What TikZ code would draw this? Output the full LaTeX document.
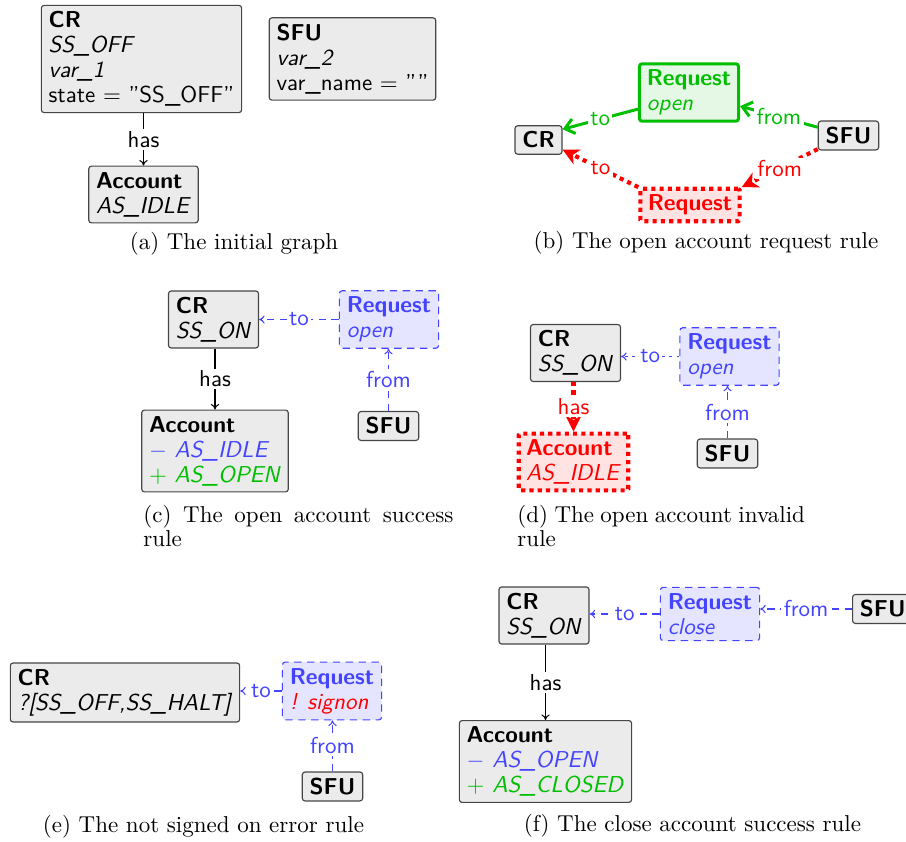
\documentclass[tikz,border=0pt]{standalone}
\usetikzlibrary{arrows.meta}
\definecolor{bfill}{RGB}{235,235,235}
\definecolor{bdraw}{RGB}{70,70,70}
\definecolor{myblue}{RGB}{68,68,255}
\definecolor{bluefill}{RGB}{229,229,255}
\definecolor{mygreen}{RGB}{0,190,0}
\definecolor{greenfill}{RGB}{229,247,229}
\definecolor{myred}{RGB}{255,0,0}
\definecolor{redfill}{RGB}{255,226,226}
\newcommand\ndfont{\sffamily\fontsize{10}{10.9}\selectfont}
\tikzset{
  box/.style={draw=bdraw, fill=bfill, line width=0.5pt, rounded corners=1.2pt,
    align=left, inner xsep=3.2pt, inner ysep=2.6pt, font=\ndfont},
  bluebox/.style={box, draw=myblue, fill=bluefill, dash pattern=on 3.2pt off 2.4pt},
  greenbox/.style={box, draw=mygreen, fill=greenfill, line width=1.3pt},
  redbox/.style={box, draw=myred, fill=redfill, line width=1.8pt, dash pattern=on 1.8pt off 1.8pt, rounded corners=0.6pt},
  lbl/.style={fill=white, inner sep=1pt, font=\ndfont},
  hasedge/.style={draw=black, line width=0.45pt, -{Computer Modern Rightarrow[length=2.4pt,width=3.6pt]}},
  blueedge/.style={draw=myblue, line width=0.45pt, dash pattern=on 3.2pt off 2.4pt, -{Computer Modern Rightarrow[length=2.4pt,width=3.6pt]}},
  blueedgefine/.style={draw=myblue, line width=0.45pt, dash pattern=on 1.2pt off 2pt, -{Computer Modern Rightarrow[length=2.4pt,width=3.6pt]}},
  greenedge/.style={draw=mygreen, line width=1.3pt, -{Straight Barb[length=4pt,width=6.5pt]}},
  rededge/.style={draw=myred, line width=1.8pt, dash pattern=on 1.8pt off 1.8pt, -{Stealth[length=7pt,width=7pt,inset=2pt]}},
  capnode/.style={font=\rmfamily\fontsize{10}{9.4}\selectfont, inner sep=0pt},
}
\begin{document}
\begin{tikzpicture}[x=0.4348pt, y=-0.4348pt]
\useasboundingbox (0,0) rectangle (906,842);

% ---------- (a)
\node[box] (a-cr) at (141.5,59) {\textbf{CR}\\\textit{SS\_OFF}\\\textit{var\_1}\\state $=$ "SS\_OFF"};
\node[box] (a-sfu) at (352.5,59) {\textbf{SFU}\\\textit{var\_2}\\var\_name $=$ ""};
\node[box] (a-acc) at (143.5,194.5) {\textbf{Account}\\\textit{AS\_IDLE}};
\draw[hasedge] (a-acc.north |- a-cr.south) -- node[lbl] {has} (a-acc.north);
\node[capnode] (a-cap) at (234,244) {(a) The initial graph};

% ---------- (b)
\node[greenbox] (b-req) at (689,92.5) {\textcolor{mygreen}{\textbf{Request}}\\\textcolor{mygreen}{\textit{open}}};
\node[box] (b-cr) at (538.5,140) {\textbf{CR}};
\node[box] (b-sfu) at (848.5,135.5) {\textbf{SFU}};
\node[redbox] (b-rreq) at (690,205) {\textcolor{myred}{\textbf{Request}}};
\draw[greenedge] (b-req.198) -- node[lbl, text=mygreen] {to} (b-cr.24);
\draw[greenedge] (b-sfu.165) -- node[lbl, text=mygreen] {from} (b-req.-15);
\draw[rededge] (b-rreq.161) -- node[lbl, text=myred] {to} (b-cr.-22);
\draw[rededge] (b-sfu.204) -- node[lbl, text=myred] {from} (b-rreq.19);
\node[capnode] (b-cap) at (706,243) {(b) The open account request rule};

% ---------- (c)
\node[box] (c-cr) at (213.5,319.5) {\textbf{CR}\\\textit{SS\_ON}};
\node[bluebox] (c-req) at (389,319.5) {\textcolor{myblue}{\textbf{Request}}\\\textcolor{myblue}{\textit{open}}};
\node[box] (c-acc) at (215,451) {\textbf{Account}\\\textcolor{myblue}{$-$ \textit{AS\_IDLE}}\\\textcolor{mygreen}{$+$ \textit{AS\_OPEN}}};
\node[box] (c-sfu) at (388.5,426) {\textbf{SFU}};
\draw[hasedge] (c-acc.north |- c-cr.south) -- node[lbl] {has} (c-acc.north);
\draw[blueedge] (c-req.west) -- node[lbl, text=myblue] {to} (c-cr.east);
\draw[blueedge] (c-sfu.north) -- node[lbl, text=myblue] {from} (c-sfu.north |- c-req.south);
\node[capnode, anchor=north west, text width=134.8pt, align=justify] (c-cap) at (143,505) {(c) The open account success\linebreak rule};

% ---------- (d)
\node[box] (d-cr) at (575.5,353) {\textbf{CR}\\\textit{SS\_ON}};
\node[bluebox] (d-req) at (729.5,356.5) {\textcolor{myblue}{\textbf{Request}}\\\textcolor{myblue}{\textit{open}}};
\node[redbox] (d-acc) at (573.5,462) {\textcolor{myred}{\textbf{Account}}\\\textcolor{myred}{\textit{AS\_IDLE}}};
\node[box] (d-sfu) at (727.5,453.5) {\textbf{SFU}};
\draw[rededge] (d-acc.north |- d-cr.south) -- node[lbl, text=myred] {has} (d-acc.north);
\draw[blueedgefine] (d-req.west) -- node[lbl, text=myblue] {to} (d-req.west -| d-cr.east);
\draw[blueedge] (d-sfu.north) -- node[lbl, text=myblue] {from} (d-sfu.north |- d-req.south);
\node[capnode, anchor=north west, text width=125pt, align=justify] (d-cap) at (517,505) {(d) The open account invalid\linebreak rule};

% ---------- (e)
\node[box] (e-cr) at (125,692.5) {\textbf{CR}\\\textit{?[SS\_OFF,SS\_HALT]}};
\node[bluebox] (e-req) at (332,691) {\textcolor{myblue}{\textbf{Request}}\\\textcolor{myred}{\textit{! signon}}};
\node[box] (e-sfu) at (332.5,786.5) {\textbf{SFU}};
\draw[blueedge] (e-req.west) -- node[lbl, text=myblue] {to} (e-req.west -| e-cr.east);
\draw[blueedge] (e-sfu.north) -- node[lbl, text=myblue] {from} (e-sfu.north |- e-req.south);
\node[capnode] (e-cap) at (203.5,827) {(e) The not signed on error rule};

% ---------- (f)
\node[box] (f-cr) at (544,615.5) {\textbf{CR}\\\textit{SS\_ON}};
\node[bluebox] (f-req) at (710,614) {\textcolor{myblue}{\textbf{Request}}\\\textcolor{myblue}{\textit{close}}};
\node[box, anchor=west] (f-sfu) at (852,609) {\textbf{SFU}};
\node[box] (f-acc) at (545.5,761.5) {\textbf{Account}\\\textcolor{myblue}{$-$ \textit{AS\_OPEN}}\\\textcolor{mygreen}{$+$ \textit{AS\_CLOSED}}};
\draw[hasedge] (f-acc.north |- f-cr.south) -- node[lbl] {has} (f-acc.north);
\draw[blueedge] (f-req.west) -- node[lbl, text=myblue] {to} (f-req.west -| f-cr.east);
\draw[blueedge] (f-sfu.west) -- node[lbl, text=myblue] {from} (f-sfu.west -| f-req.east);
\node[capnode] (f-cap) at (692.5,826) {(f) The close account success rule};
\end{tikzpicture}
\end{document}
